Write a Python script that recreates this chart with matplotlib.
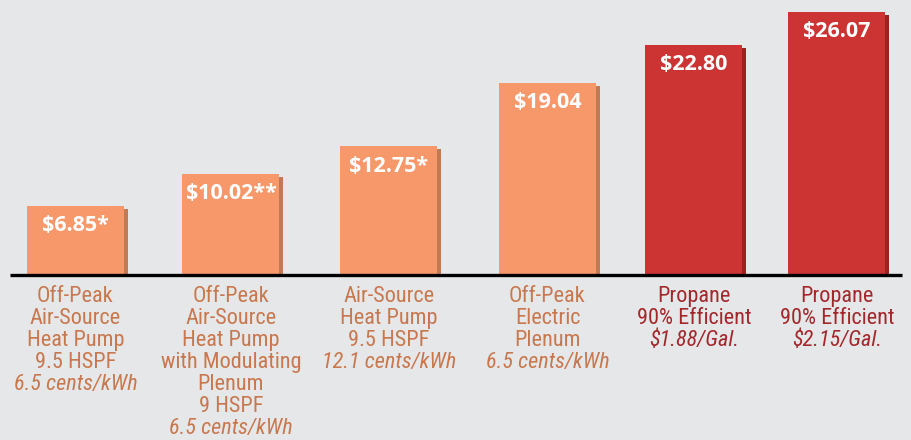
import matplotlib.pyplot as plt

# Chart data
values = [6.85, 10.02, 12.75, 19.04, 22.80, 26.07]
value_labels = ["$6.85*", "$10.02**", "$12.75*", "$19.04", "$22.80", "$26.07"]
label_lines = [
    ["Off-Peak", "Air-Source", "Heat Pump", "9.5 HSPF"],
    ["Off-Peak", "Air-Source", "Heat Pump", "with Modulating", "Plenum", "9 HSPF"],
    ["Air-Source", "Heat Pump", "9.5 HSPF"],
    ["Off-Peak", "Electric", "Plenum"],
    ["Propane", "90% Efficient"],
    ["Propane", "90% Efficient"],
]
rate_labels = ["6.5 cents/kWh", "6.5 cents/kWh", "12.1 cents/kWh",
               "6.5 cents/kWh", "$1.88/Gal.", "$2.15/Gal."]
is_propane = [False, False, False, False, True, True]

# Layout (pixel-based)
x_centers = [75.5, 231, 389, 547.5, 694, 837]
BAR_W = 97
PX = 10.1          # pixels per dollar
BASE = 275         # baseline pixel row from top
BG = "#E6E7E9"

FACE = {False: "#F7986A", True: "#CC3333"}
SIDE = {False: "#C27A55", True: "#9C2222"}
TEXT = {False: "#C8784E", True: "#A3282B"}

LABEL_FONT = ["Roboto Condensed", "Archivo Narrow", "DejaVu Sans"]
VALUE_FONT = ["Open Sans", "DejaVu Sans"]

fig = plt.figure(figsize=(9.12, 4.4), dpi=100, facecolor=BG)
ax = fig.add_axes([0, 0, 1, 1])
ax.set_facecolor(BG)
ax.set_xlim(0, 912)
ax.set_ylim((BASE - 440) / PX, BASE / PX)
ax.axis("off")

faces = [FACE[p] for p in is_propane]
sides = [SIDE[p] for p in is_propane]

# shadow strip on the right, then bar face
ax.bar([x + 4 for x in x_centers], [v - 0.3 for v in values], width=BAR_W,
       color=sides, zorder=1)
ax.bar(x_centers, values, width=BAR_W, color=faces, zorder=2)

ax.plot([10, 902], [0, 0], color="black", lw=2.4, zorder=3,
        solid_capstyle="butt")

for x, v, lab in zip(x_centers, values, value_labels):
    ax.text(x, v - 20 / PX, lab, ha="center", va="center", color="white",
            fontsize=15.5, fontweight="bold", family=VALUE_FONT, zorder=4)

line_h = 22 / PX
first = (BASE - 302) / PX
for x, lines, rate, p in zip(x_centers, label_lines, rate_labels, is_propane):
    for i, line in enumerate(lines):
        ax.text(x, first - i * line_h, line, ha="center", va="baseline",
                color=TEXT[p], fontsize=16, family=LABEL_FONT)
    ax.text(x, first - len(lines) * line_h, rate, ha="center", va="baseline",
            color=TEXT[p], fontsize=16, style="italic", family=LABEL_FONT)

fig.savefig("out.png", dpi=100, facecolor=BG)
